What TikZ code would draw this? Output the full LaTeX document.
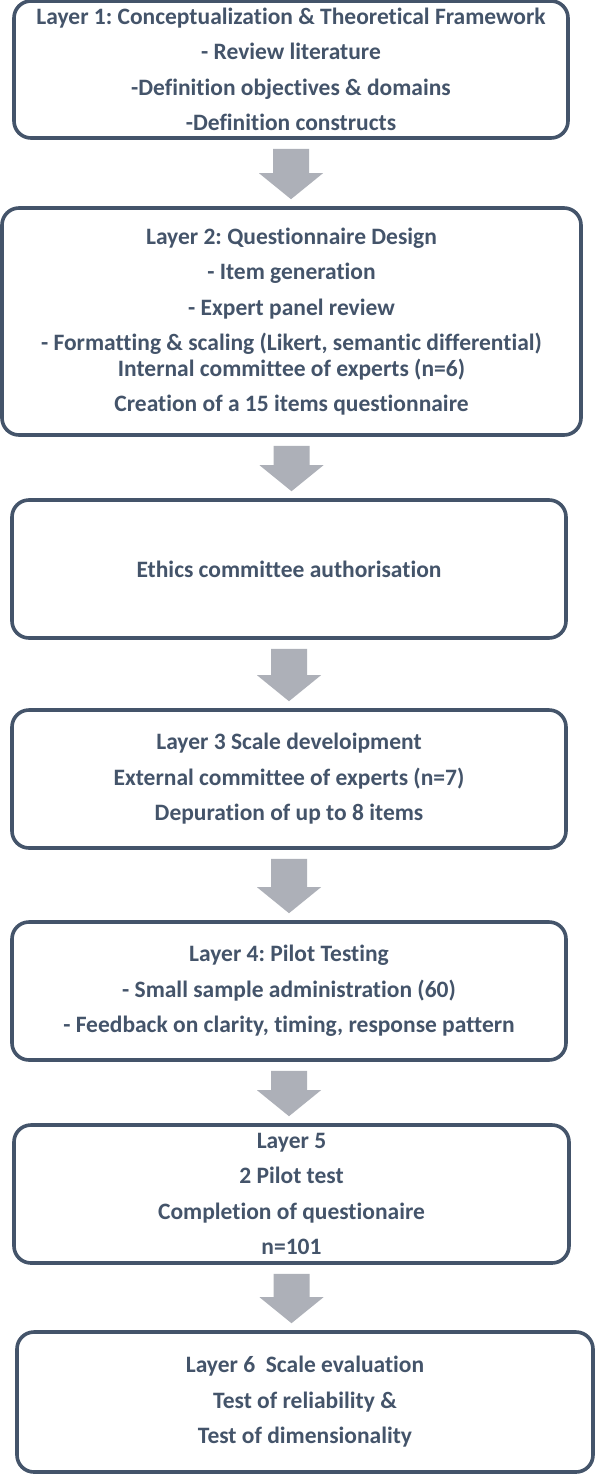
\documentclass[tikz,border=0pt]{standalone}
\usepackage{fontspec}
\setmainfont{Carlito}[Ligatures={NoCommon}]
\usetikzlibrary{calc}
\definecolor{slate}{HTML}{44546A}
\definecolor{arrowgray}{HTML}{ADB0B8}
\tikzset{
  stage/.style={draw=slate, line width=3.6pt, rounded corners=17pt, fill=white,
    inner sep=0pt, align=center, text=slate,
    font=\fontsize{23.5}{35.5}\selectfont\bfseries\frenchspacing},
  flow/.style={fill=arrowgray, draw=none}
}
\newcommand{\blockarrow}[2]{%
  \fill[flow] let \p1=(#1.south), \p2=(#2.north) in
    (\x1-18pt,\y1-9pt) -- (\x1+18pt,\y1-9pt) -- (\x1+18pt,\y2+33pt) --
    (\x1+32pt,\y2+33pt) -- (\x1,\y2+7pt) -- (\x1-32pt,\y2+33pt) --
    (\x1-18pt,\y2+33pt) -- cycle;}
\begin{document}
\begin{tikzpicture}[x=1pt,y=-1pt]
\useasboundingbox[fill=white] (0,0) rectangle (596,1475);
\node[stage, minimum width=554pt, minimum height=137pt] (b1) at (291,69.5)
  {Layer 1: Conceptualization \& Theoretical Framework\\
   - Review literature\\
   -Definition objectives \& domains\\
   -Definition constructs};
\node[stage, minimum width=579pt, minimum height=227pt] (b2) at (291.5,321.5)
  {Layer 2: Questionnaire Design\\
   - Item generation\\
   - Expert panel review\\
   - Formatting \& scaling (Likert, semantic differential)\\[-10pt]
   Internal committee of experts (n=6)\\
   Creation of a 15 items questionnaire};
\node[stage, minimum width=554pt, minimum height=138pt] (b3) at (289,569)
  {Ethics committee authorisation};
\node[stage, minimum width=554pt, minimum height=138pt] (b4) at (289,779)
  {Layer 3 Scale develoipment\\
   External committee of experts (n=7)\\
   Depuration of up to 8 items};
\node[stage, minimum width=554pt, minimum height=138pt] (b5) at (289,991)
  {Layer 4: Pilot Testing\\
   - Small sample administration (60)\\
   - Feedback on clarity, timing, response pattern};
\node[stage, minimum width=555pt, minimum height=138pt] (b6) at (291.5,1194)
  {Layer 5\\
   2 Pilot test\\
   Completion of questionaire\\
   n=101};
\node[stage, minimum width=576pt, minimum height=140pt] (b7) at (305,1402)
  {Layer 6\ \ Scale evaluation\\
   Test of reliability \&\\
   Test of dimensionality};
\blockarrow{b1}{b2}
\blockarrow{b2}{b3}
\blockarrow{b3}{b4}
\blockarrow{b4}{b5}
\blockarrow{b5}{b6}
\blockarrow{b6}{b7}
\end{tikzpicture}
\end{document}
